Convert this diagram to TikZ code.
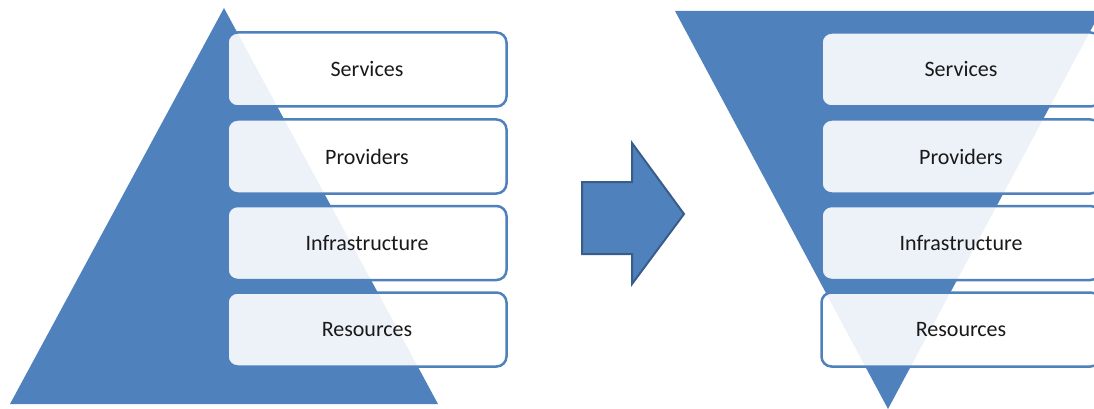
\documentclass[tikz,border=0pt]{standalone}
\usepackage{fontspec}
\setmainfont{Carlito}
\definecolor{tierblue}{HTML}{4F81BD}
\definecolor{arrowedge}{HTML}{385D8A}
\tikzset{
  tier/.style={draw=tierblue, line width=2.5pt, rounded corners=10pt,
    fill=white, fill opacity=0.9, text opacity=1, text=black!90,
    minimum width=279pt, minimum height=74pt,
    font=\fontsize{22}{26}\selectfont},
}
\begin{document}
\begin{tikzpicture}[x=1pt,y=-1pt]
\useasboundingbox (0,0) rectangle (1094,409);
\clip (0,0) rectangle (1094,409);
% pyramid and inverted pyramid
\fill[tierblue] (224,8) -- (438,404) -- (10,404) -- cycle;
\fill[tierblue] (675,11) -- (1101,11) -- (888,409) -- cycle;
% block arrow
\draw[fill=tierblue, draw=arrowedge, line width=2pt, line join=miter]
  (582,182) -- (632,182) -- (632,143) -- (684,214) -- (632,284)
  -- (632,254) -- (582,254) -- cycle;
% layers
\foreach \name/\y/\txt in {serv/69.5/Services, prov/156.5/Providers,
    infra/243/Infrastructure, res/329.5/Resources} {
  \node[tier] (\name-l) at (367,\y) {\txt};
  \node[tier] (\name-r) at (961,\y) {\txt};
}
\end{tikzpicture}
\end{document}
